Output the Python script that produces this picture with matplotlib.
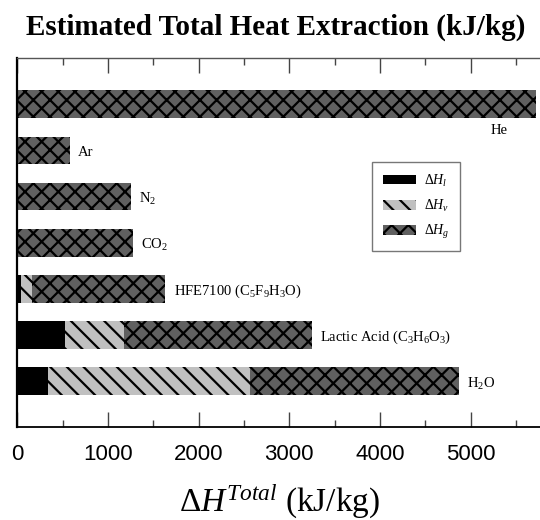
import numpy as np
import matplotlib.pyplot as plt
from matplotlib.patches import Patch
from matplotlib.ticker import MultipleLocator

plt.rcParams['font.family'] = ['Liberation Serif', 'DejaVu Serif']
plt.rcParams['mathtext.fontset'] = 'custom'
plt.rcParams['mathtext.rm'] = 'Liberation Serif'
plt.rcParams['mathtext.it'] = 'Liberation Serif:italic'
plt.rcParams['mathtext.bf'] = 'Liberation Serif:bold'
plt.rcParams['hatch.linewidth'] = 1.6

# heat extraction components per fluid (kJ/kg), bottom to top
fluids = ['H$_2$O', 'Lactic Acid (C$_3$H$_6$O$_3$)', 'HFE7100 (C$_5$F$_9$H$_3$O)',
          'CO$_2$', 'N$_2$', 'Ar', 'He']
dH_l = [342, 532, 45, 0, 0, 0, 0]
dH_v = [2223, 651, 120, 0, 0, 0, 0]
dH_g = [2306, 2070, 1470, 1280, 1250, 580, 5725]

comp_labels = [r'$\Delta H_l$', r'$\Delta H_v$', r'$\Delta H_g$']

fig = plt.figure(figsize=(5.4, 5.2), dpi=100)
# axes runs a little past the right edge of the figure
ax = fig.add_axes([0.0319, 0.1779, 1.0067, 0.7106])

y = np.arange(len(fluids))
l = np.array(dH_l)
v = np.array(dH_v)
g = np.array(dH_g)
h = 0.6

ax.barh(y, l, height=h, color='black', edgecolor='black', linewidth=0)
ax.barh(y, v, left=l, height=h, color='#c0c0c0', edgecolor='black',
        linewidth=0, hatch='\\\\')
ax.barh(y, g, left=l + v, height=h, color='#606060', edgecolor='black',
        linewidth=0, hatch='xx')

total = l + v + g
for yi, tot, name in zip(y, total, fluids):
    if tot > 5500:
        # bar runs to the edge, so put its name underneath
        ax.text(tot - 505, yi - 0.58, name, fontsize=10.5, va='center', ha='left')
    else:
        ax.text(tot + 90, yi - 0.05, name, fontsize=10.5, va='center', ha='left')

ax.set_xlim(0, 5995)
ax.set_ylim(-1, 7)
ax.set_yticks([])
ax.xaxis.set_major_locator(MultipleLocator(1000))
ax.xaxis.set_minor_locator(MultipleLocator(500))
ax.tick_params(axis='x', which='both', direction='in', top=True, color='#444444')
ax.tick_params(axis='x', which='major', length=11, width=1, pad=12)
ax.tick_params(axis='x', which='minor', length=5, width=1)
for lab in ax.get_xticklabels():
    lab.set_fontfamily('Liberation Sans')
    lab.set_fontsize(16)
ax.spines['left'].set_linewidth(1.6)
ax.spines['bottom'].set_linewidth(1.3)
ax.spines['top'].set_linewidth(1.0)
ax.spines['top'].set_color('#555555')

handles = [Patch(facecolor='black', edgecolor='black', linewidth=0),
           Patch(facecolor='#c0c0c0', edgecolor='black', linewidth=0, hatch='\\\\'),
           Patch(facecolor='#606060', edgecolor='black', linewidth=0, hatch='xx')]
leg = ax.legend(handles, comp_labels, loc='upper left', bbox_to_anchor=(0.653, 0.7185),
                borderaxespad=0, fontsize=10, frameon=True, fancybox=False,
                handlelength=2.4, handleheight=0.7, labelspacing=0.65,
                borderpad=0.75, handletextpad=0.55)
leg.get_frame().set_edgecolor('#555555')
leg.get_frame().set_linewidth(1.0)

fig.text(0.511, 0.947, 'Estimated Total Heat Extraction (kJ/kg)', ha='center',
         va='center', fontsize=21, fontweight='bold')
fig.text(0.518, 0.035, r'$\Delta H^{Total}$ (kJ/kg)', ha='center', va='center',
         fontsize=24)

fig.savefig('out.png', dpi=100)
